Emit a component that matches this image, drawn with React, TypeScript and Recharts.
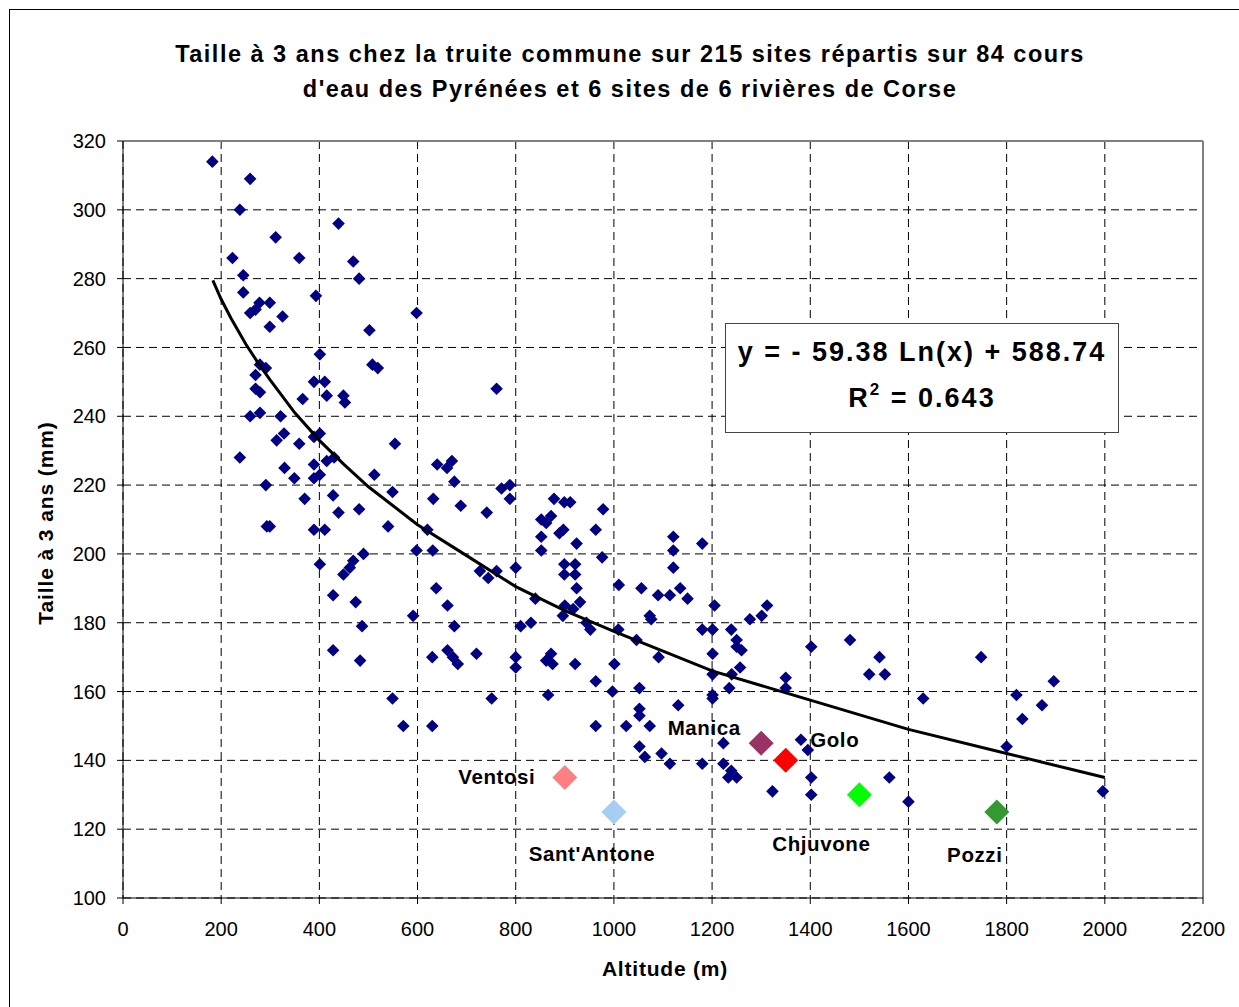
import { ScatterChart, Scatter, XAxis, YAxis, CartesianGrid, ReferenceLine } from 'recharts';

// Pyrénées : [altitude (m), taille à 3 ans (mm)]
const SITES: [number, number][] = [
  [182, 314], [259, 309], [238, 300], [311, 292], [439, 296], [223, 286], [359, 286], [469, 285],
  [481, 280], [245, 281], [245, 276], [393, 275], [278, 273], [299, 273], [259, 270], [270, 271],
  [325, 269], [299, 266], [598, 270], [502, 265], [401, 258], [508, 255], [519, 254], [279, 255],
  [291, 254], [270, 252], [270, 248], [279, 247], [389, 250], [411, 250], [415, 246], [449, 246],
  [452, 244], [366, 245], [259, 240], [279, 241], [321, 240], [328, 235], [313, 233], [359, 232],
  [389, 234], [401, 235], [554, 232], [238, 228], [329, 225], [349, 222], [389, 226], [415, 227],
  [430, 228], [389, 222], [401, 223], [512, 223], [640, 226], [291, 220], [428, 217], [370, 216],
  [481, 213], [439, 212], [549, 218], [632, 216], [293, 208], [299, 208], [389, 207], [411, 207],
  [540, 208], [620, 207], [598, 201], [631, 201], [490, 200], [401, 197], [469, 198], [462, 196],
  [449, 194], [638, 190], [428, 188], [474, 186], [591, 182], [487, 179], [428, 172], [483, 169],
  [630, 170], [549, 158], [571, 150], [630, 150], [761, 248], [660, 225], [670, 227], [675, 221],
  [688, 214], [741, 212], [771, 219], [788, 220], [788, 216], [878, 216], [899, 215], [911, 215],
  [978, 213], [852, 210], [862, 209], [872, 211], [889, 206], [897, 207], [963, 207], [852, 205],
  [924, 203], [1121, 205], [852, 201], [1121, 201], [976, 199], [899, 197], [921, 197], [899, 194],
  [921, 194], [800, 196], [727, 195], [744, 193], [761, 195], [1121, 196], [1010, 191], [1056, 190],
  [924, 190], [1090, 188], [1114, 188], [840, 187], [900, 185], [931, 186], [917, 184], [661, 185],
  [896, 182], [1073, 182], [1076, 181], [675, 179], [810, 179], [831, 180], [944, 180], [952, 178],
  [1009, 178], [1046, 175], [1091, 170], [661, 172], [672, 170], [682, 168], [720, 171], [800, 170],
  [800, 167], [862, 169], [872, 171], [875, 168], [921, 168], [1001, 168], [963, 163], [1052, 161],
  [997, 160], [751, 158], [866, 159], [1131, 156], [1052, 155], [1052, 153], [963, 150], [1025, 150],
  [1073, 150], [1052, 144], [1063, 141], [1097, 142], [1114, 139], [1180, 203], [1135, 190], [1150, 187],
  [1205, 185], [1277, 181], [1301, 182], [1312, 185], [1180, 178], [1201, 178], [1239, 178], [1250, 175],
  [1250, 173], [1260, 172], [1201, 171], [1402, 173], [1481, 175], [1541, 170], [1257, 167], [1240, 165],
  [1201, 165], [1350, 164], [1350, 161], [1235, 161], [1201, 159], [1201, 158], [1520, 165], [1552, 165],
  [1223, 145], [1381, 146], [1395, 143], [1180, 139], [1223, 139], [1239, 137], [1250, 135], [1233, 135],
  [1402, 135], [1402, 130], [1323, 131], [1561, 135], [1600, 128], [1748, 170], [1896, 163], [1630, 158],
  [1820, 159], [1872, 156], [1832, 152], [1800, 144], [1996, 131],
];

// Corse
const CORSE_NAMES = ['Ventosi', "Sant'Antone", 'Manica', 'Golo', 'Chjuvone', 'Pozzi'];
const CORSE_ALT = [900, 1000, 1300, 1350, 1500, 1780];
const CORSE_TAILLE = [135, 125, 145, 140, 130, 125];

// courbe de tendance
const TREND_ALT = [183, 200, 220, 250, 275, 300, 350, 400, 450, 500, 600, 700, 800, 900, 1000, 1200, 1400, 1600, 1800, 2000];
const TREND_TAILLE = [279.5, 274, 268.5, 261, 255.5, 250.5, 241, 233, 226, 219.5, 208.5, 199.5, 190.5, 183.5, 177.5, 166, 157.5, 149, 142, 135];

const X_TICKS = [0, 200, 400, 600, 800, 1000, 1200, 1400, 1600, 1800, 2000, 2200];
const Y_TICKS = [100, 120, 140, 160, 180, 200, 220, 240, 260, 280, 300, 320];

const CORSE_COLORS: Record<string, string> = {
  Ventosi: '#ff8080',
  "Sant'Antone": '#a6cef2',
  Manica: '#993366',
  Golo: '#ff0000',
  Chjuvone: '#00ff00',
  Pozzi: '#339933',
};

// décalage du libellé par rapport au point (px)
const LABEL_OFFSET: Record<string, [number, number]> = {
  Ventosi: [-68, -1],
  "Sant'Antone": [-22, 42],
  Manica: [-57, -16],
  Golo: [49, -21],
  Chjuvone: [-38, 49],
  Pozzi: [-22, 43],
};

const FONT = '"Liberation Sans", Arial, sans-serif';

const siteData = SITES.map(([x, y]) => ({ x, y }));
const corseData = CORSE_NAMES.map((name, i) => ({ name, x: CORSE_ALT[i], y: CORSE_TAILLE[i] }));
const trendData = TREND_ALT.map((x, i) => ({ x, y: TREND_TAILLE[i] }));

const diamond = (cx: number, cy: number, r: number) =>
  `${cx},${cy - r} ${cx + r},${cy} ${cx},${cy + r} ${cx - r},${cy}`;

const SiteShape = (props: any) => (
  <polygon points={diamond(props.cx, props.cy, 6.3)} fill="#000080" />
);

const CorseShape = (props: any) => {
  const { cx, cy, payload } = props;
  const [dx, dy] = LABEL_OFFSET[payload.name];
  return (
    <g>
      <polygon points={diamond(cx, cy, 12.5)} fill={CORSE_COLORS[payload.name]} />
      <text
        x={cx + dx}
        y={cy + dy}
        textAnchor="middle"
        dominantBaseline="central"
        fontFamily={FONT}
        fontWeight="bold"
        fontSize={20.5}
        letterSpacing={0.6}
        fill="#000"
      >
        {payload.name}
      </text>
    </g>
  );
};

const NoShape = () => <g />;

export default function App() {
  const tickStyle = { fontSize: 20, fill: '#000', fontFamily: FONT };
  return (
    <div
      style={{
        position: 'absolute',
        left: 0,
        top: 0,
        width: 1239,
        height: 1007,
        overflow: 'hidden',
        background: '#fff',
        fontFamily: FONT,
      }}
    >
      <div
        style={{
          position: 'absolute',
          left: 9,
          top: 9,
          width: 1250,
          height: 1020,
          border: '1px solid #000',
        }}
      />
      <ScatterChart width={1239} height={1007} margin={{ top: 141, right: 36, bottom: 0, left: 0 }}>
        <CartesianGrid stroke="#000" strokeDasharray="8 5" />
        <XAxis
          type="number"
          dataKey="x"
          domain={[0, 2200]}
          ticks={X_TICKS}
          interval={0}
          height={109}
          tick={tickStyle}
          tickSize={6}
          tickMargin={18}
          stroke="#000"
          allowDataOverflow
        />
        <YAxis
          type="number"
          dataKey="y"
          domain={[100, 320]}
          ticks={Y_TICKS}
          interval={0}
          width={123}
          tick={tickStyle}
          tickSize={6}
          tickMargin={11}
          stroke="#000"
          allowDataOverflow
        />
        <ReferenceLine y={320} stroke="#808080" strokeWidth={2} />
        <ReferenceLine x={2200} stroke="#808080" strokeWidth={2} />
        <Scatter data={siteData} shape={SiteShape} isAnimationActive={false} />
        <Scatter
          data={trendData}
          line={{ stroke: '#000', strokeWidth: 3 }}
          lineType="joint"
          shape={NoShape}
          isAnimationActive={false}
        />
        <Scatter data={corseData} shape={CorseShape} isAnimationActive={false} />
      </ScatterChart>

      <div
        style={{
          position: 'absolute',
          left: 0,
          top: 37,
          width: 1260,
          textAlign: 'center',
          fontSize: 23.5,
          letterSpacing: 1.5,
          fontWeight: 'bold',
          lineHeight: '35px',
        }}
      >
        Taille à 3 ans chez la truite commune sur 215 sites répartis sur 84 cours
        <br />
        d'eau des Pyrénées et 6 sites de 6 rivières de Corse
      </div>

      <div
        style={{
          position: 'absolute',
          left: 46,
          top: 523,
          transform: 'translate(-50%, -50%) rotate(-90deg)',
          whiteSpace: 'nowrap',
          fontSize: 21,
          letterSpacing: 0.9,
          fontWeight: 'bold',
        }}
      >
        Taille à 3 ans (mm)
      </div>

      <div
        style={{
          position: 'absolute',
          left: 665,
          top: 969,
          transform: 'translate(-50%, -50%)',
          whiteSpace: 'nowrap',
          fontSize: 21,
          letterSpacing: 0.8,
          fontWeight: 'bold',
        }}
      >
        Altitude (m)
      </div>

      <div
        style={{
          position: 'absolute',
          left: 725,
          top: 323,
          width: 392,
          height: 103,
          border: '1px solid #444',
          background: '#fff',
          textAlign: 'center',
          fontSize: 27,
          letterSpacing: 2,
          fontWeight: 'bold',
          lineHeight: '46px',
          paddingTop: 5,
          boxSizing: 'content-box',
          whiteSpace: 'nowrap',
        }}
      >
        y = - 59.38 Ln(x) + 588.74
        <br />
        R<sup style={{ fontSize: 17, verticalAlign: 'top', lineHeight: '30px' }}>2</sup> = 0.643
      </div>
    </div>
  );
}
